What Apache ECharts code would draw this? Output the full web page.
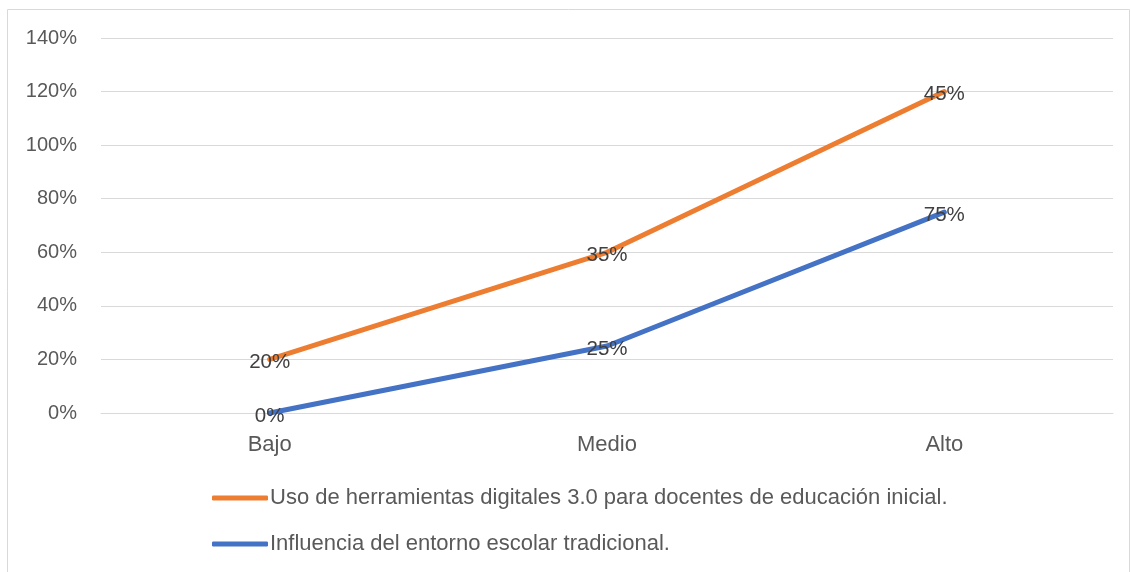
<!DOCTYPE html>
<html>
<head>
<meta charset="utf-8">
<script src="https://cdn.jsdelivr.net/npm/echarts@6/dist/echarts.min.js"></script>
<style>
html,body{margin:0;padding:0;background:#fff;}
#c{width:1131px;height:572px;}
</style>
</head>
<body>
<div id="c"></div>
<script>
const categories = ['Bajo', 'Medio', 'Alto'];
const seriesNames = [
  'Uso de herramientas digitales 3.0 para docentes de educación inicial.',
  'Influencia del entorno escolar tradicional.'
];
const usoValues = [20, 35, 45];
const influenciaValues = [0, 25, 75];
const yTicks = { min: 0, max: 140, interval: 20 };

const FONT = 'Liberation Sans';
const chart = echarts.init(document.getElementById('c'));
const labelCfg = {
  show: true,
  position: 'inside',
  formatter: p => p.value + '%',
  color: '#404040',
  fontSize: 20.5,
  fontFamily: FONT,
  offset: [0, 3]
};
chart.setOption({
  animation: false,
  textStyle: { fontFamily: FONT },
  graphic: [{
    type: 'rect',
    shape: { x: 7.5, y: 9.5, width: 1122, height: 600 },
    style: { fill: 'none', stroke: '#d9d9d9', lineWidth: 1 },
    silent: true
  }],
  grid: { left: 101, right: 18, top: 38, bottom: 159, containLabel: false },
  legend: {
    data: seriesNames,
    orient: 'vertical',
    left: 207,
    top: 482,
    itemWidth: 56,
    itemHeight: 5,
    itemGap: 24,
    icon: 'roundRect',
    textStyle: { color: '#595959', fontSize: 22, fontFamily: FONT, padding: [0, 0, 0, -3] }
  },
  xAxis: {
    type: 'category',
    data: categories,
    boundaryGap: true,
    axisLine: { lineStyle: { color: '#d9d9d9', width: 1 } },
    axisTick: { show: false },
    axisLabel: { color: '#595959', fontSize: 22, fontFamily: FONT, margin: 21 }
  },
  yAxis: {
    type: 'value',
    min: yTicks.min,
    max: yTicks.max,
    interval: yTicks.interval,
    axisLine: { show: false },
    axisTick: { show: false },
    splitLine: { lineStyle: { color: '#d9d9d9', width: 1 } },
    axisLabel: { color: '#595959', fontSize: 20, fontFamily: FONT, margin: 24, formatter: '{value}%' }
  },
  series: [
    {
      name: seriesNames[1],
      type: 'line',
      stack: 'total',
      data: influenciaValues,
      symbol: 'circle',
      symbolSize: 2,
      showSymbol: true,
      lineStyle: { color: '#4472C4', width: 5, cap: 'round' },
      itemStyle: { color: '#4472C4' },
      label: labelCfg,
      z: 2
    },
    {
      name: seriesNames[0],
      type: 'line',
      stack: 'total',
      data: usoValues,
      symbol: 'circle',
      symbolSize: 2,
      showSymbol: true,
      lineStyle: { color: '#ED7D31', width: 5, cap: 'round' },
      itemStyle: { color: '#ED7D31' },
      label: labelCfg,
      z: 3
    }
  ]
});
</script>
</body>
</html>
